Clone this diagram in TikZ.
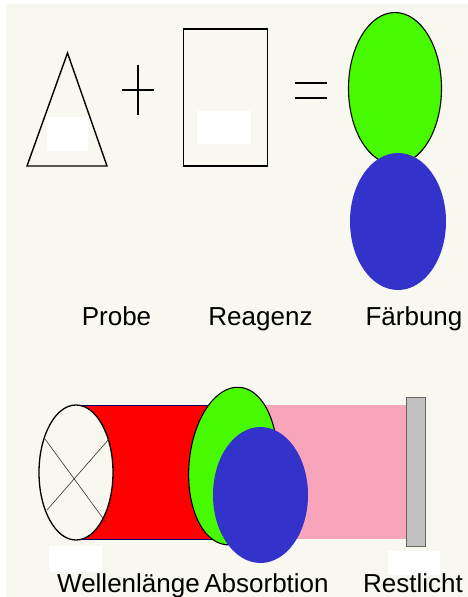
\documentclass[tikz,border=0pt]{standalone}
\usepackage{fontspec}
\setmainfont{Liberation Sans}
\usetikzlibrary{shapes.geometric}

\definecolor{bgcol}{RGB}{248,248,240}
\definecolor{greencol}{RGB}{72,250,0}
\definecolor{bluecol}{RGB}{51,51,204}
\definecolor{pinkcol}{RGB}{248,164,186}
\definecolor{redcol}{RGB}{255,0,0}
\definecolor{graycol}{RGB}{192,192,192}

\tikzset{
  outline/.style={draw=black, line width=1.4pt},
  blob/.style={ellipse, inner sep=0pt},
  greenblob/.style={blob, fill=greencol, draw=black, line width=1.1pt},
  blueblob/.style={blob, fill=bluecol},
  patch/.style={fill=white, draw=none},
  label/.style={inner sep=0pt, anchor=base, font=\fontsize{26}{30}\selectfont}
}

\begin{document}
\begin{tikzpicture}[x=1pt, y=-1pt]
  \useasboundingbox (0,0) rectangle (468,597);
  \fill[white] (0,0) rectangle (468,597);
  \fill[bgcol] (6,4) rectangle (468,597);

  % oben: Probe + Reagenz = Faerbung
  \coordinate (triTop) at (67.5,53);
  \coordinate (triL) at (27,166);
  \coordinate (triR) at (107,166);
  \draw[outline, line join=miter] (triTop) -- (triL) -- (triR) -- cycle;
  \fill[patch] (47,117) rectangle (88,151);

  \coordinate (plusL) at (122,90);
  \coordinate (plusR) at (154,90);
  \coordinate (plusT) at (138,65);
  \coordinate (plusB) at (138,115);
  \draw[outline] (plusL) -- (plusR) (plusT) -- (plusB);

  \draw[outline] (183.5,29) rectangle (267.5,166);
  \fill[patch] (197,111) rectangle (251,144);

  \foreach \y in {83,98}{
    \coordinate (eqL\y) at (295,\y);
    \coordinate (eqR\y) at (327,\y);
    \draw[outline] (eqL\y) -- (eqR\y);
  }

  \node[greenblob, minimum width=93pt, minimum height=152pt] (mixG) at (395,88.5) {};
  \node[blueblob, minimum width=96pt, minimum height=137pt] (mixB) at (398,221.5) {};

  \node[label] (probe) at (116.5,325) {Probe};
  \node[label] (reagenz) at (260.5,325) {Reagenz};
  \node[label] (faerbung) at (414,325) {Färbung};

  % unten: Photometer
  \fill[redcol, draw=blue!40!black, line width=0.6pt] (76,405) rectangle (240,539);
  \fill[pinkcol] (240,405) rectangle (406,539);

  \node[blob, fill=bgcol, draw=black, line width=1.3pt,
        minimum width=74pt, minimum height=135pt] (lamp) at (76,472.5) {};
  \coordinate (crossA) at (45,439);
  \coordinate (crossB) at (105,521);
  \coordinate (crossC) at (109,439);
  \coordinate (crossD) at (47,510);
  \draw[black!80, line width=0.6pt] (crossA) -- (crossB) (crossC) -- (crossD);

  \node[greenblob, rotate=-5, minimum width=88pt, minimum height=158pt] (cuvG) at (233,466) {};
  \node[blueblob, minimum width=95pt, minimum height=136pt] (cuvB) at (260.5,495) {};

  \draw[fill=graycol, draw=black!60, line width=0.9pt] (406,397) rectangle (425,546);

  \fill[patch] (49,546) rectangle (102,572);
  \fill[patch] (388,551) rectangle (440,575);

  \node[label] (welle) at (128.5,592) {Wellenlänge};
  \node[label] (absorb) at (266.5,592) {Absorbtion};
  \node[label] (rest) at (413,592) {Restlicht};
\end{tikzpicture}
\end{document}
